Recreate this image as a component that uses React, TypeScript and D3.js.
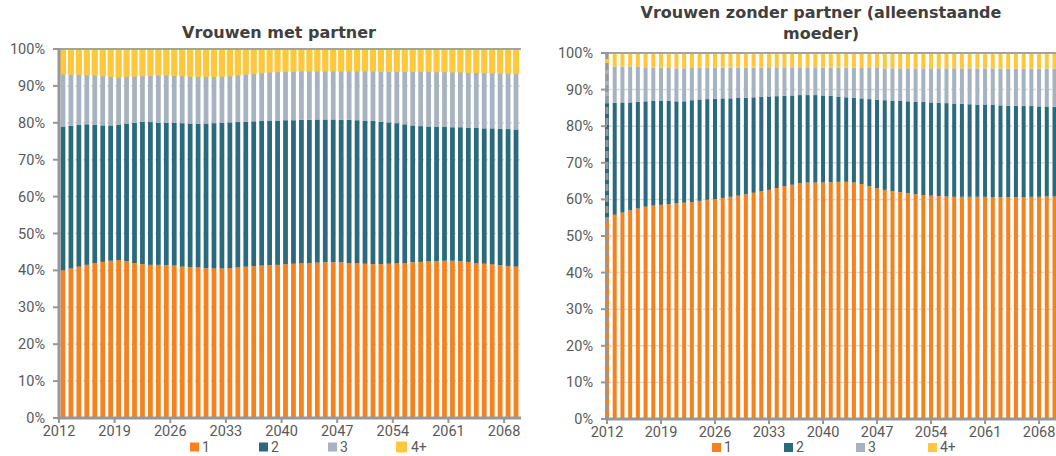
import * as d3 from "d3";

// categorieën
const yearsLeft = d3.range(2012, 2070);
const yearsRight = d3.range(2012, 2071);
const xLabels = ["2012", "2019", "2026", "2033", "2040", "2047", "2054", "2061", "2068"];
const yTicks = [0, 10, 20, 30, 40, 50, 60, 70, 80, 90, 100];
const seriesKeys = ["1", "2", "3", "4+"];
const seriesColors = ["#f5821f", "#2b6a7c", "#a8b3c1", "#ffc83c"];

// Vrouwen met partner (aandeel in %)
const left1 = [40.0, 40.5, 41.0, 41.5, 42.0, 42.3, 42.6, 42.8, 42.5, 42.0, 41.7, 41.5, 41.5, 41.4, 41.3, 41.0, 40.9, 40.8, 40.6, 40.5, 40.5, 40.6, 40.8, 41.0, 41.2, 41.3, 41.4, 41.5, 41.7, 41.8, 42.0, 42.0, 42.1, 42.2, 42.2, 42.2, 42.0, 41.9, 41.8, 41.7, 41.7, 41.8, 41.9, 42.0, 42.2, 42.3, 42.4, 42.5, 42.6, 42.6, 42.5, 42.3, 42.0, 41.8, 41.6, 41.4, 41.2, 41.0];
const left2 = [39.0, 38.7, 38.4, 38.1, 37.4, 37.0, 36.7, 36.6, 37.3, 38.0, 38.6, 38.7, 38.5, 38.6, 38.7, 38.9, 38.9, 38.9, 39.2, 39.4, 39.5, 39.5, 39.4, 39.3, 39.2, 39.2, 39.1, 39.1, 39.0, 38.9, 38.8, 38.8, 38.8, 38.7, 38.7, 38.6, 38.8, 38.8, 38.8, 38.8, 38.6, 38.3, 38.0, 37.6, 37.1, 36.8, 36.6, 36.4, 36.3, 36.2, 36.3, 36.4, 36.6, 36.7, 36.9, 37.0, 37.1, 37.2];
const left3 = [14.3, 14.0, 13.8, 13.5, 13.6, 13.5, 13.3, 13.1, 12.8, 12.7, 12.5, 12.7, 13.0, 13.0, 12.9, 12.9, 12.9, 12.9, 12.8, 12.7, 12.7, 12.7, 12.8, 12.9, 13.0, 13.1, 13.3, 13.3, 13.3, 13.3, 13.3, 13.3, 13.2, 13.2, 13.2, 13.3, 13.3, 13.4, 13.5, 13.6, 13.7, 13.9, 14.1, 14.4, 14.7, 14.9, 15.0, 15.0, 15.0, 15.0, 15.0, 15.0, 15.1, 15.1, 15.1, 15.1, 15.2, 15.2];
const left4 = [6.7, 6.8, 6.8, 6.9, 7.0, 7.2, 7.4, 7.5, 7.4, 7.3, 7.2, 7.1, 7.0, 7.0, 7.1, 7.2, 7.3, 7.4, 7.4, 7.4, 7.3, 7.2, 7.0, 6.8, 6.6, 6.4, 6.2, 6.1, 6.0, 6.0, 5.9, 5.9, 5.9, 5.9, 5.9, 5.9, 5.9, 5.9, 5.9, 5.9, 6.0, 6.0, 6.0, 6.0, 6.0, 6.0, 6.0, 6.1, 6.1, 6.2, 6.2, 6.3, 6.3, 6.4, 6.4, 6.5, 6.5, 6.6];

// Vrouwen zonder partner (alleenstaande moeder)
const right1 = [55.0, 55.8, 56.4, 57.0, 57.5, 58.0, 58.3, 58.5, 58.7, 58.9, 59.1, 59.3, 59.6, 59.9, 60.1, 60.4, 60.7, 61.0, 61.4, 61.8, 62.2, 62.6, 63.1, 63.6, 64.0, 64.4, 64.6, 64.6, 64.6, 64.7, 64.8, 64.8, 64.6, 64.2, 63.6, 63.0, 62.6, 62.3, 62.0, 61.7, 61.4, 61.2, 61.0, 60.9, 60.8, 60.7, 60.7, 60.7, 60.7, 60.7, 60.6, 60.6, 60.6, 60.6, 60.6, 60.7, 60.7, 60.8, 60.8];
const right2 = [31.3, 30.6, 30.1, 29.5, 29.2, 28.8, 28.6, 28.4, 28.2, 27.9, 27.7, 27.8, 27.7, 27.5, 27.4, 27.2, 26.9, 26.7, 26.4, 26.1, 25.8, 25.5, 25.1, 24.7, 24.4, 24.1, 23.9, 23.9, 23.8, 23.6, 23.3, 23.1, 23.2, 23.4, 23.8, 24.2, 24.5, 24.7, 24.9, 25.1, 25.3, 25.4, 25.5, 25.5, 25.5, 25.5, 25.4, 25.3, 25.2, 25.1, 25.2, 25.1, 25.0, 25.0, 24.9, 24.8, 24.7, 24.6, 24.5];
const right3 = [10.1, 9.9, 9.8, 9.8, 9.5, 9.3, 9.1, 9.1, 9.0, 9.0, 9.0, 8.8, 8.7, 8.6, 8.5, 8.4, 8.4, 8.3, 8.2, 8.1, 8.0, 8.0, 7.9, 7.8, 7.7, 7.6, 7.6, 7.6, 7.6, 7.7, 7.9, 8.1, 8.2, 8.3, 8.5, 8.7, 8.7, 8.8, 8.9, 9.0, 9.1, 9.2, 9.3, 9.4, 9.5, 9.6, 9.7, 9.8, 9.9, 10.0, 10.0, 10.0, 10.1, 10.1, 10.2, 10.2, 10.3, 10.3, 10.4];
const right4 = [3.6, 3.7, 3.7, 3.7, 3.8, 3.9, 4.0, 4.0, 4.1, 4.2, 4.2, 4.1, 4.0, 4.0, 4.0, 4.0, 4.0, 4.0, 4.0, 4.0, 4.0, 3.9, 3.9, 3.9, 3.9, 3.9, 3.9, 3.9, 4.0, 4.0, 4.0, 4.0, 4.0, 4.1, 4.1, 4.1, 4.2, 4.2, 4.2, 4.2, 4.2, 4.2, 4.2, 4.2, 4.2, 4.2, 4.2, 4.2, 4.2, 4.2, 4.2, 4.3, 4.3, 4.3, 4.3, 4.3, 4.3, 4.3, 4.3];

const textColor = "#595959";
const axisColor = "#979797";
const tickFont = "Roboto, 'Noto Sans', sans-serif";

type PanelProps = {
  years: number[];
  values: number[][];
  titleLines: string[];
  titleX: number;
  titleY: number[];
  x0: number;
  x1: number;
  yTop: number;
  yBot: number;
  pad: number;
  range: [number, number];
  labelAtCenter: boolean;
  dashedAxis: boolean;
  yellowBorder: boolean;
  yLabelX: number;
  legendX: number;
  legendStep: number;
  legendY: number;
};

const Panel = (p: PanelProps) => {
  const rows = p.years.map((year, i) => {
    const r: any = {year};
    seriesKeys.forEach((k, j) => (r[k] = p.values[j][i]));
    return r;
  });
  const stacked = d3.stack().keys(seriesKeys)(rows);

  const x = d3.scaleBand<number>()
    .domain(p.years)
    .range(p.range)
    .paddingInner(p.pad)
    .paddingOuter(p.pad / 2);
  const y = d3.scaleLinear().domain([0, 100]).range([p.yBot, p.yTop]).clamp(true);
  const bw = x.bandwidth();

  const labelPos = (label: string) => {
    const yr = +label;
    return p.labelAtCenter ? x(yr)! + bw / 2 : x(yr)! - (x.step() * p.pad) / 2;
  };

  return (
    <g>
      {p.titleLines.map((t, i) => (
        <text key={t} x={p.titleX} y={p.titleY[i]} textAnchor="middle"
          fontFamily="'DejaVu Sans', sans-serif" fontWeight="bold" fontSize={16} fill="#404040">{t}</text>
      ))}

      {/* rasterlijnen */}
      {yTicks.filter(t => t > 0 && t < 100).map(t => (
        <line key={t} x1={p.x0} x2={p.x1} y1={y(t)} y2={y(t)}
          stroke="#d9d9d9" strokeWidth={1.5} strokeDasharray="5,3"/>
      ))}

      {/* balken */}
      {stacked.map((s, j) => (
        <g key={s.key} fill={seriesColors[j]}>
          {s.map((d, i) => {
            const yy = y(d[1]);
            const h = y(d[0]) - y(d[1]);
            const border = p.yellowBorder && j === 3;
            return (
              <rect key={i} x={x(p.years[i])} y={yy} width={bw} height={Math.max(0, h)}
                stroke={border ? seriesColors[j] : "none"} strokeWidth={border ? 1.4 : 0}
                strokeLinejoin="round"/>
            );
          })}
        </g>
      ))}

      {/* assen */}
      <line x1={p.x0} x2={p.x1} y1={y(100)} y2={y(100)} stroke="#a3a3a3" strokeWidth={2}/>
      <line x1={p.x0 - 1.5} x2={p.x1} y1={p.yBot} y2={p.yBot} stroke={axisColor} strokeWidth={3}/>
      <line x1={p.x0} x2={p.x0} y1={p.yTop - 1} y2={p.yBot} stroke={axisColor} strokeWidth={3}
        strokeDasharray={p.dashedAxis ? "7,4" : undefined}/>

      {yTicks.map(t => (
        <g key={t}>
          <line x1={p.x0 - 6} x2={p.x0} y1={y(t)} y2={y(t)} stroke={axisColor} strokeWidth={2}/>
          <text x={p.yLabelX} y={y(t) + 5} textAnchor="end" fontFamily={tickFont} fontSize={14.5} fill={textColor}>{t}%</text>
        </g>
      ))}

      {xLabels.map(l => (
        <g key={l}>
          <line x1={labelPos(l)} x2={labelPos(l)} y1={p.yBot} y2={p.yBot + 5} stroke={axisColor} strokeWidth={2}/>
          <text x={labelPos(l)} y={p.yBot + 18} textAnchor="middle" fontFamily={tickFont} fontSize={14.5} fill={textColor}>{l}</text>
        </g>
      ))}

      {/* legenda */}
      {seriesKeys.map((k, j) => {
        const lx = p.legendX + j * p.legendStep;
        const big = p.yellowBorder && j === 3;
        return (
          <g key={k}>
            <rect x={lx} y={p.legendY} width={9} height={9} fill={seriesColors[j]}
              stroke={big ? seriesColors[j] : "none"} strokeWidth={big ? 2 : 0} strokeLinejoin="round"/>
            <text x={lx + (big ? 14 : 12)} y={p.legendY + 9} fontFamily={tickFont} fontSize={14} fill={textColor}>{k}</text>
          </g>
        );
      })}
    </g>
  );
};

export default function App() {
  const rStep = (1054.5 - 607) / (yearsRight.length - 1);
  return (
    <svg width={1056} height={456} style={{position: "absolute", left: 0, top: 0, background: "#fff"}}>
      <Panel years={yearsLeft} values={[left1, left2, left3, left4]}
        titleLines={["Vrouwen met partner"]} titleX={279} titleY={[38]}
        x0={59} x1={521} yTop={49} yBot={418} pad={0.4} range={[59, 520]}
        labelAtCenter={false} dashedAxis={false} yellowBorder={true}
        yLabelX={45} legendX={190} legendStep={69} legendY={442.5}/>
      <Panel years={yearsRight} values={[right1, right2, right3, right4]}
        titleLines={["Vrouwen zonder partner (alleenstaande", "moeder)"]} titleX={821} titleY={[18, 39]}
        x0={607} x1={1056} yTop={53} yBot={419} pad={0.48} range={[607 - rStep / 2, 1054.5 + rStep / 2]}
        labelAtCenter={true} dashedAxis={true} yellowBorder={false}
        yLabelX={593} legendX={712} legendStep={72} legendY={443}/>
    </svg>
  );
}
